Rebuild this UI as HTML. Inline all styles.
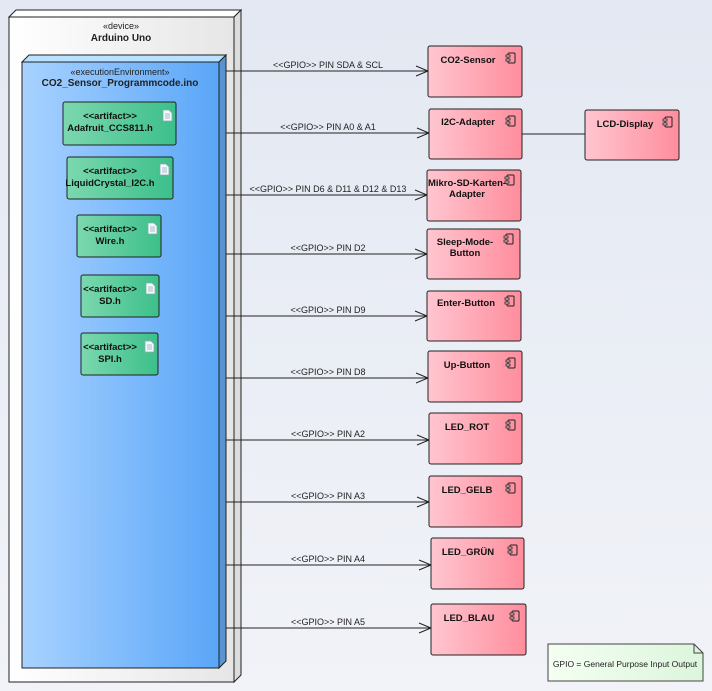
<!DOCTYPE html>
<html><head><meta charset="utf-8"><style>
html,body{margin:0;padding:0;background:#e9edf5;}
svg{display:block;font-family:"Liberation Sans",Arial,sans-serif;}
</style></head><body>
<svg width="712" height="691" viewBox="0 0 712 691" xmlns="http://www.w3.org/2000/svg">
<defs>
<linearGradient id="bg" x1="0" y1="0" x2="0" y2="1"><stop offset="0" stop-color="#e3e8f2"/><stop offset="1" stop-color="#f1f3f8"/></linearGradient>
<linearGradient id="dev" x1="0" y1="0" x2="1" y2="0"><stop offset="0" stop-color="#ffffff"/><stop offset="1" stop-color="#e6e6e6"/></linearGradient>
<linearGradient id="env" x1="0" y1="0" x2="1" y2="0"><stop offset="0" stop-color="#a8d2ff"/><stop offset="1" stop-color="#5aa6f8"/></linearGradient>
<linearGradient id="art" x1="0" y1="0" x2="1" y2="0"><stop offset="0" stop-color="#7bd8ae"/><stop offset="1" stop-color="#3cbf8a"/></linearGradient>
<linearGradient id="cmp" x1="0" y1="0" x2="1" y2="0"><stop offset="0" stop-color="#ffc6d0"/><stop offset="1" stop-color="#ff8d9d"/></linearGradient>
<linearGradient id="note" x1="0" y1="0" x2="1" y2="0"><stop offset="0" stop-color="#f4fff2"/><stop offset="1" stop-color="#dcf5dc"/></linearGradient>
<g id="ci"><rect x="0" y="0" width="7" height="10" rx="1" fill="none" stroke="#222" stroke-width="1"/><rect x="-2" y="2" width="4" height="2" fill="#ffd0d8" stroke="#222" stroke-width="0.8"/><rect x="-2" y="6" width="4" height="2" fill="#ffd0d8" stroke="#222" stroke-width="0.8"/></g>
<g id="di"><path d="M0 0h6l3 3v8h-9z" fill="#f4f8ff" stroke="#8aa" stroke-width="0.8"/><path d="M2 4h5M2 6h5M2 8h5" stroke="#8aa" stroke-width="0.8"/></g>
</defs>
<rect width="712" height="691" fill="url(#bg)"/>
<!-- device -->
<path d="M9 17 L16 10 L241 10 L234 17 Z" fill="#fff" stroke="#222"/>
<path d="M234 17 L241 10 L241 675 L234 682 Z" fill="#dcdcdc" stroke="#222"/>
<rect x="9" y="17" width="225" height="665" fill="url(#dev)" stroke="#222"/>
<text x="121" y="29" font-size="9" text-anchor="middle" fill="#222">«device»</text>
<text x="121" y="41" font-size="10" font-weight="bold" text-anchor="middle" fill="#222">Arduino Uno</text>
<!-- env -->
<path d="M22 62 L29 55 L226 55 L219 62 Z" fill="#b8e2ff" stroke="#222"/>
<path d="M219 62 L226 55 L226 661 L219 668 Z" fill="#5a94d0" stroke="#222"/>
<rect x="22" y="62" width="197" height="606" fill="url(#env)" stroke="#222"/>
<text x="120" y="75" font-size="9" text-anchor="middle" fill="#222">«executionEnvironment»</text>
<text x="120" y="86" font-size="10" font-weight="bold" text-anchor="middle" fill="#222">CO2_Sensor_Programmcode.ino</text>
<!-- artifacts -->
<g font-size="9.5" font-weight="bold" fill="#111" text-anchor="middle">
<rect x="63" y="102" width="113" height="43" rx="2" fill="url(#art)" stroke="#222"/><use href="#di" x="163" y="110"/><text x="110" y="119">&lt;&lt;artifact&gt;&gt;</text><text x="110" y="131">Adafruit_CCS811.h</text>
<rect x="67" y="157" width="106" height="42" rx="2" fill="url(#art)" stroke="#222"/><use href="#di" x="160" y="164"/><text x="110" y="174">&lt;&lt;artifact&gt;&gt;</text><text x="110" y="186">LiquidCrystal_I2C.h</text>
<rect x="77" y="215" width="84" height="42" rx="2" fill="url(#art)" stroke="#222"/><use href="#di" x="148" y="223"/><text x="110" y="232">&lt;&lt;artifact&gt;&gt;</text><text x="110" y="244">Wire.h</text>
<rect x="81" y="275" width="78" height="42" rx="2" fill="url(#art)" stroke="#222"/><use href="#di" x="146" y="283"/><text x="110" y="292">&lt;&lt;artifact&gt;&gt;</text><text x="110" y="304">SD.h</text>
<rect x="81" y="333" width="77" height="42" rx="2" fill="url(#art)" stroke="#222"/><use href="#di" x="145" y="341"/><text x="110" y="350">&lt;&lt;artifact&gt;&gt;</text><text x="110" y="362">SPI.h</text>
</g>
<!-- connectors -->
<g stroke="#222" stroke-width="1" fill="none">
<path d="M226 71H428M416 66l12 5-12 5"/>
<path d="M226 133H429M417 128l12 5-12 5"/>
<path d="M226 195H427M415 190l12 5-12 5"/>
<path d="M226 254H427M415 249l12 5-12 5"/>
<path d="M226 316H427M415 311l12 5-12 5"/>
<path d="M226 378H428M416 373l12 5-12 5"/>
<path d="M226 440H429M417 435l12 5-12 5"/>
<path d="M226 502H429M417 497l12 5-12 5"/>
<path d="M226 565H431M419 560l12 5-12 5"/>
<path d="M226 628H431M419 623l12 5-12 5"/>
<path d="M522 134H585"/>
</g>
<g font-size="9" fill="#222" text-anchor="middle">
<text x="328" y="68">&lt;&lt;GPIO&gt;&gt; PIN SDA &amp; SCL</text>
<text x="328" y="130">&lt;&lt;GPIO&gt;&gt; PIN A0 &amp; A1</text>
<text x="328" y="192">&lt;&lt;GPIO&gt;&gt; PIN D6 &amp; D11 &amp; D12 &amp; D13</text>
<text x="328" y="251">&lt;&lt;GPIO&gt;&gt; PIN D2</text>
<text x="328" y="313">&lt;&lt;GPIO&gt;&gt; PIN D9</text>
<text x="328" y="375">&lt;&lt;GPIO&gt;&gt; PIN D8</text>
<text x="328" y="437">&lt;&lt;GPIO&gt;&gt; PIN A2</text>
<text x="328" y="499">&lt;&lt;GPIO&gt;&gt; PIN A3</text>
<text x="328" y="562">&lt;&lt;GPIO&gt;&gt; PIN A4</text>
<text x="328" y="625">&lt;&lt;GPIO&gt;&gt; PIN A5</text>
</g>
<!-- components -->
<g font-size="9.5" font-weight="bold" fill="#111" text-anchor="middle" stroke-width="1">
<rect x="428" y="46" width="94" height="51" rx="2" fill="url(#cmp)" stroke="#222"/><use href="#ci" x="508" y="53"/><text x="468" y="63">CO2-Sensor</text>
<rect x="429" y="109" width="93" height="50" rx="2" fill="url(#cmp)" stroke="#222"/><use href="#ci" x="508" y="116"/><text x="468" y="125">I2C-Adapter</text>
<rect x="585" y="110" width="94" height="50" rx="2" fill="url(#cmp)" stroke="#222"/><use href="#ci" x="665" y="117"/><text x="625" y="127">LCD-Display</text>
<rect x="427" y="170" width="94" height="51" rx="2" fill="url(#cmp)" stroke="#222"/><use href="#ci" x="507" y="175"/><text x="467" y="186">Mikro-SD-Karten-</text><text x="467" y="197">Adapter</text>
<rect x="427" y="229" width="93" height="50" rx="2" fill="url(#cmp)" stroke="#222"/><use href="#ci" x="506" y="234"/><text x="465" y="245">Sleep-Mode-</text><text x="465" y="256">Button</text>
<rect x="427" y="291" width="94" height="50" rx="2" fill="url(#cmp)" stroke="#222"/><use href="#ci" x="507" y="296"/><text x="466" y="306">Enter-Button</text>
<rect x="428" y="351" width="94" height="51" rx="2" fill="url(#cmp)" stroke="#222"/><use href="#ci" x="508" y="358"/><text x="467" y="368">Up-Button</text>
<rect x="429" y="413" width="93" height="51" rx="2" fill="url(#cmp)" stroke="#222"/><use href="#ci" x="508" y="420"/><text x="467" y="430">LED_ROT</text>
<rect x="429" y="476" width="93" height="51" rx="2" fill="url(#cmp)" stroke="#222"/><use href="#ci" x="508" y="483"/><text x="467" y="493">LED_GELB</text>
<rect x="431" y="538" width="93" height="51" rx="2" fill="url(#cmp)" stroke="#222"/><use href="#ci" x="510" y="545"/><text x="468" y="555">LED_GRÜN</text>
<rect x="431" y="604" width="95" height="51" rx="2" fill="url(#cmp)" stroke="#222"/><use href="#ci" x="512" y="611"/><text x="469" y="621">LED_BLAU</text>
</g>
<!-- note -->
<path d="M548 644H694L703 653V681H548Z" fill="url(#note)" stroke="#444"/>
<path d="M694 644V653H703" fill="none" stroke="#444"/>
<text x="625" y="667" font-size="8.5" text-anchor="middle" fill="#222">GPIO = General Purpose Input Output</text>
</svg>
</body></html>
